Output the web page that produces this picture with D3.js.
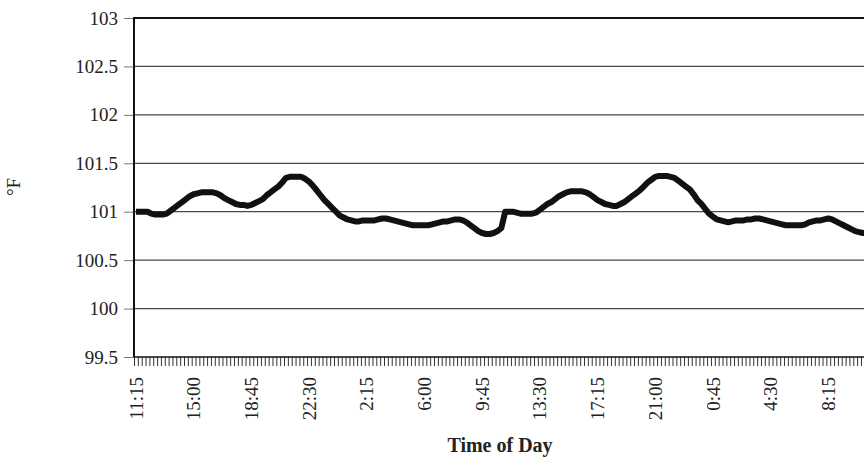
<!DOCTYPE html>
<html>
<head>
<meta charset="utf-8">
<script src="https://cdn.jsdelivr.net/npm/d3@7"></script>
<style>
  body { margin: 0; background: #fff; }
  text { font-family: "Liberation Serif", "DejaVu Serif", serif; fill: #222; }
</style>
</head>
<body>
<svg id="chart"></svg>
<script>
// temperature (oF) every 15 minutes
var dayOne = [
  101.0, 101.0, 101.0, 101.0, 100.98, 100.97, 100.97, 100.97, 100.98, 101.01,
  101.04, 101.07, 101.1, 101.13, 101.16, 101.18, 101.19, 101.2, 101.2, 101.2,
  101.2, 101.19, 101.17, 101.14, 101.12, 101.1, 101.08, 101.07, 101.07, 101.06,
  101.07, 101.09, 101.11, 101.13, 101.17, 101.2, 101.23, 101.26, 101.3, 101.35,
  101.36, 101.36, 101.36, 101.36, 101.34, 101.31, 101.27, 101.22, 101.17, 101.12,
  101.08, 101.04, 101.0, 100.96, 100.94, 100.92, 100.91, 100.9, 100.9, 100.91,
  100.91, 100.91, 100.91, 100.92, 100.93, 100.93, 100.92, 100.91, 100.9, 100.89,
  100.88, 100.87, 100.86, 100.86, 100.86, 100.86, 100.86, 100.87, 100.88, 100.89,
  100.9, 100.9, 100.91, 100.92, 100.92, 100.91, 100.89, 100.86, 100.83, 100.8,
  100.78, 100.77, 100.77, 100.78, 100.8, 100.83
]
var dayTwo = [
  101.0, 101.0, 101.0, 100.99, 100.98, 100.98, 100.98, 100.98, 100.99, 101.02,
  101.05, 101.08, 101.1, 101.13, 101.16, 101.18, 101.2, 101.21, 101.21, 101.21,
  101.21, 101.2, 101.18, 101.15, 101.12, 101.1, 101.08, 101.07, 101.06, 101.06,
  101.08, 101.1, 101.13, 101.16, 101.19, 101.22, 101.26, 101.3, 101.33, 101.36,
  101.37, 101.37, 101.37, 101.36, 101.35, 101.32, 101.29, 101.26, 101.23, 101.18,
  101.12, 101.08, 101.03, 100.98, 100.95, 100.92, 100.91, 100.9, 100.89, 100.9,
  100.91, 100.91, 100.91, 100.92, 100.92, 100.93, 100.93, 100.92, 100.91, 100.9,
  100.89, 100.88, 100.87, 100.86, 100.86, 100.86, 100.86, 100.86, 100.87, 100.89,
  100.9, 100.91, 100.91, 100.92, 100.93, 100.92, 100.9, 100.88, 100.86, 100.84,
  100.82, 100.8, 100.79, 100.78, 100.78, 100.79
]
var tickLabels = ["11:15", "15:00", "18:45", "22:30", "2:15", "6:00", "9:45",
                  "13:30", "17:15", "21:00", "0:45", "4:30", "8:15"]
var labelEvery = 15
var yTicks = [99.5, 100, 100.5, 101, 101.5, 102, 102.5, 103]

var screen = {width: 864, height: 460}
var margins = {top: 18, left: 134, bottom: 103}

var temps = dayOne.concat(dayTwo)

var svg = d3.select("#chart")
  .attr("width", screen.width)
  .attr("height", screen.height)

var plotRight = 872.5
var plotBottom = screen.height - margins.bottom

var xScale = d3.scaleBand()
  .domain(d3.range(temps.length))
  .range([margins.left, plotRight])
var xEdge = d3.scaleLinear()
  .domain([0, temps.length])
  .range([margins.left, plotRight])
var yScale = d3.scaleLinear()
  .domain([99.5, 103])
  .range([plotBottom, margins.top])

// gridlines
svg.append("g").selectAll("line")
  .data(yTicks.slice(1, -1))
  .enter().append("line")
  .attr("x1", margins.left).attr("x2", screen.width)
  .attr("y1", function(d){ return yScale(d) })
  .attr("y2", function(d){ return yScale(d) })
  .attr("stroke", "#4a4a4a").attr("stroke-width", 1.2)

// top border
svg.append("line")
  .attr("x1", margins.left).attr("x2", screen.width)
  .attr("y1", yScale(103)).attr("y2", yScale(103))
  .attr("stroke", "#111").attr("stroke-width", 2)

// y axis
var yAxis = d3.axisLeft(yScale)
  .tickValues(yTicks)
  .tickSize(10)
  .tickPadding(6)
  .tickFormat(function(d){ return d })
svg.append("g")
  .attr("transform", "translate(" + margins.left + ",0)")
  .call(yAxis)
  .call(function(g){
    g.select(".domain").remove()
    g.selectAll(".tick line").attr("stroke", "#777").attr("stroke-width", 1)
    g.selectAll("text").attr("font-size", 19).attr("fill", "#222")
      .style("font-family", "Liberation Serif")
  })

// minor ticks at category edges
var tickAxis = d3.axisBottom(xEdge)
  .tickValues(d3.range(0, temps.length + 1))
  .tickSize(9)
  .tickFormat("")
svg.append("g")
  .attr("transform", "translate(0," + plotBottom + ")")
  .call(tickAxis)
  .call(function(g){
    g.select(".domain").remove()
    g.selectAll(".tick line").attr("stroke", "#333").attr("stroke-width", 1)
  })

// category labels
var labelAxis = d3.axisBottom(xScale)
  .tickValues(d3.range(0, temps.length, labelEvery).filter(function(i){ return i / labelEvery < tickLabels.length }))
  .tickSize(0)
  .tickFormat(function(i){ return tickLabels[i / labelEvery] })
svg.append("g")
  .attr("transform", "translate(0," + plotBottom + ")")
  .call(labelAxis)
  .call(function(g){
    g.select(".domain").remove()
    g.selectAll("text")
      .attr("font-size", 19).attr("fill", "#222")
      .style("font-family", "Liberation Serif")
      .attr("text-anchor", "end")
      .attr("transform", "rotate(-90)")
      .attr("x", -20).attr("y", 0).attr("dy", "0.35em")
  })

// axis lines
svg.append("line")
  .attr("x1", margins.left).attr("x2", margins.left)
  .attr("y1", margins.top - 1).attr("y2", plotBottom)
  .attr("stroke", "#111").attr("stroke-width", 2)
svg.append("line")
  .attr("x1", margins.left).attr("x2", screen.width)
  .attr("y1", plotBottom).attr("y2", plotBottom)
  .attr("stroke", "#111").attr("stroke-width", 1.6)

// the temperature line
var line = d3.line()
  .x(function(d, i){ return xScale(i) + xScale.bandwidth() / 2 })
  .y(function(d){ return yScale(d) })
svg.append("path")
  .datum(temps)
  .attr("d", line)
  .attr("fill", "none")
  .attr("stroke", "#111")
  .attr("stroke-width", 6)
  .attr("stroke-linejoin", "round")

// axis titles
svg.append("text")
  .attr("transform", "translate(20,187) rotate(-90)")
  .attr("text-anchor", "middle")
  .attr("font-size", 19)
  .text("°F")
svg.append("text")
  .attr("x", 500).attr("y", 452)
  .attr("text-anchor", "middle")
  .attr("font-size", 20)
  .attr("font-weight", "bold")
  .text("Time of Day")
</script>
</body>
</html>
